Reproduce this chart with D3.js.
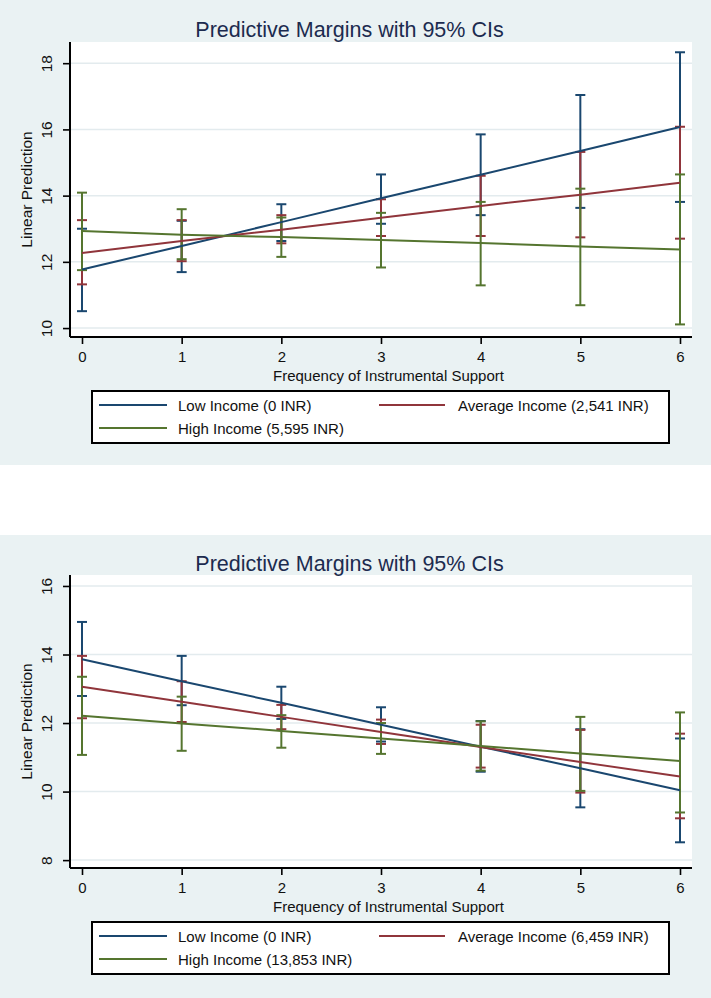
<!DOCTYPE html>
<html><head><meta charset="utf-8">
<script src="https://cdn.jsdelivr.net/npm/d3@7"></script>
<style>html,body{margin:0;padding:0;background:#fff;} svg{display:block;}</style>
</head><body>
<svg id="c" width="711" height="998"></svg>
<script>
// ---------- shared data ----------
const xValues = [0, 1, 2, 3, 4, 5, 6];
const xTickLabels = ["0", "1", "2", "3", "4", "5", "6"];
const chartTitle = "Predictive Margins with 95% CIs";
const xAxisTitle = "Frequency of Instrumental Support";
const yAxisTitle = "Linear Prediction";
const seriesColors = ["#1a476f", "#90353b", "#55752f"];

// ---------- top panel ----------
const topYTicks = [10, 12, 14, 16, 18];
const topLegend = ["Low Income (0 INR)", "Average Income (2,541 INR)", "High Income (5,595 INR)"];
const topLowMean  = [11.77, 12.48, 13.20, 13.92, 14.63, 15.35, 16.07];
const topLowLo    = [10.51, 11.69, 12.63, 13.15, 13.41, 13.63, 13.81];
const topLowHi    = [13.00, 13.24, 13.74, 14.64, 15.85, 17.04, 18.33];
const topAvgMean  = [12.27, 12.63, 12.97, 13.33, 13.69, 14.03, 14.39];
const topAvgLo    = [11.32, 12.02, 12.56, 12.78, 12.78, 12.74, 12.70];
const topAvgHi    = [13.26, 13.26, 13.41, 13.89, 14.60, 15.32, 16.08];
const topHighMean = [12.93, 12.82, 12.75, 12.66, 12.57, 12.46, 12.37];
const topHighLo   = [11.75, 12.08, 12.15, 11.83, 11.29, 10.69, 10.11];
const topHighHi   = [14.09, 13.59, 13.34, 13.48, 13.81, 14.21, 14.64];

// ---------- bottom panel ----------
const botYTicks = [8, 10, 12, 14, 16];
const botLegend = ["Low Income (0 INR)", "Average Income (6,459 INR)", "High Income (13,853 INR)"];
const botLowMean  = [13.86, 13.22, 12.59, 11.95, 11.31, 10.68, 10.04];
const botLowLo    = [12.79, 12.52, 12.12, 11.46, 10.58, 9.54, 8.52];
const botLowHi    = [14.95, 13.96, 13.06, 12.46, 12.06, 11.82, 11.55];
const botAvgMean  = [13.06, 12.62, 12.18, 11.74, 11.30, 10.86, 10.44];
const botAvgLo    = [12.14, 12.03, 11.82, 11.39, 10.70, 9.97, 9.22];
const botAvgHi    = [13.96, 13.22, 12.53, 12.10, 11.95, 11.80, 11.69];
const botHighMean = [12.21, 11.99, 11.77, 11.55, 11.33, 11.11, 10.89];
const botHighLo   = [11.07, 11.19, 11.28, 11.10, 10.61, 10.02, 9.39];
const botHighHi   = [13.35, 12.77, 12.23, 12.00, 12.05, 12.18, 12.31];

const svg = d3.select("#c");
const FONT = "'Liberation Sans', Arial, sans-serif";

function drawPanel(cfg) {
  const g = svg.append("g");
  // panel background
  g.append("rect").attr("x", 0).attr("y", cfg.panelTop).attr("width", 711).attr("height", cfg.panelH)
    .attr("fill", "#eaf2f3");
  const left = 70, right = 692;
  // plot region
  g.append("rect").attr("x", left).attr("y", cfg.plotTop).attr("width", right - left)
    .attr("height", cfg.axisY - cfg.plotTop).attr("fill", "#ffffff");

  const x = d3.scaleLinear().domain([0, 6]).range([82, 680]);
  const y = d3.scaleLinear().domain(cfg.yDomain).range([cfg.axisY, cfg.plotTop]);

  // gridlines
  g.append("g").selectAll("line").data(cfg.yTicks).join("line")
    .attr("x1", left).attr("x2", right)
    .attr("y1", d => y(d)).attr("y2", d => y(d))
    .attr("stroke", "#e3ebee").attr("stroke-width", 1.5);

  // title
  g.append("text").attr("x", 349.5).attr("y", cfg.titleY).attr("text-anchor", "middle")
    .attr("font-family", FONT).attr("font-size", 21.5).attr("fill", "#1c2b4f").text(chartTitle);

  // Y axis
  const yAxis = d3.axisLeft(y).tickValues(cfg.yTicks).tickSize(7).tickPadding(0).tickFormat(d3.format("d"));
  const ya = g.append("g").attr("transform", `translate(${left},0)`).call(yAxis);
  ya.select(".domain").attr("d", `M0,${cfg.plotTop}V${cfg.axisY}`).attr("stroke", "#000").attr("stroke-width", 2);
  ya.selectAll(".tick line").attr("stroke", "#000").attr("stroke-width", 1.6);
  ya.selectAll(".tick text")
    .attr("font-family", FONT).attr("font-size", 15.5).attr("fill", "#111")
    .attr("x", null).attr("dy", null)
    .attr("transform", "translate(-18,0) rotate(-90)")
    .attr("text-anchor", "middle").attr("y", 0);

  // X axis
  const xAxis = d3.axisBottom(x).tickValues(xValues).tickSize(7).tickPadding(0)
    .tickFormat((d, i) => xTickLabels[i]);
  const xa = g.append("g").attr("transform", `translate(0,${cfg.axisY})`).call(xAxis);
  xa.select(".domain").attr("d", `M${left},0H${right}`).attr("stroke", "#000").attr("stroke-width", 2);
  xa.selectAll(".tick line").attr("stroke", "#000").attr("stroke-width", 1.6);
  xa.selectAll(".tick text").attr("font-family", FONT).attr("font-size", 15).attr("fill", "#111")
    .attr("dy", null).attr("y", 25);

  // axis titles
  g.append("text").attr("x", 388.5).attr("y", cfg.axisY + 44).attr("text-anchor", "middle")
    .attr("font-family", FONT).attr("font-size", 15).attr("fill", "#111").text(xAxisTitle);
  g.append("text").attr("transform", `translate(32,${(cfg.plotTop + cfg.axisY) / 2}) rotate(-90)`)
    .attr("text-anchor", "middle").attr("font-family", FONT).attr("font-size", 15.5).attr("fill", "#111")
    .text(yAxisTitle);

  // CIs
  cfg.series.forEach((s, si) => {
    const cg = g.append("g");
    xValues.forEach((xv, i) => {
      const xp = x(xv);
      cg.append("line").attr("x1", xp).attr("x2", xp).attr("y1", y(s.lo[i])).attr("y2", y(s.hi[i]))
        .attr("stroke", seriesColors[si]).attr("stroke-width", 2);
      [s.lo[i], s.hi[i]].forEach(v => {
        cg.append("line").attr("x1", xp - 5).attr("x2", xp + 5).attr("y1", y(v)).attr("y2", y(v))
          .attr("stroke", seriesColors[si]).attr("stroke-width", 2);
      });
    });
  });
  // lines
  const line = d3.line().x((d, i) => x(xValues[i])).y(d => y(d));
  cfg.series.forEach((s, si) => {
    g.append("path").attr("d", line(s.mean)).attr("fill", "none")
      .attr("stroke", seriesColors[si]).attr("stroke-width", 2);
  });

  // legend
  const ly = cfg.axisY + 54;
  g.append("rect").attr("x", 92).attr("y", ly).attr("width", 577).attr("height", 52)
    .attr("fill", "#fff").attr("stroke", "#000").attr("stroke-width", 2);
  const pos = [[99, 167, 178, ly + 14], [379, 445, 458, ly + 14], [99, 167, 178, ly + 37]];
  cfg.legend.forEach((lab, i) => {
    const p = pos[i];
    g.append("line").attr("x1", p[0]).attr("x2", p[1]).attr("y1", p[3]).attr("y2", p[3])
      .attr("stroke", seriesColors[i]).attr("stroke-width", 2);
    g.append("text").attr("x", p[2]).attr("y", p[3] + 5.5).attr("font-family", FONT)
      .attr("font-size", 15).attr("fill", "#111").text(lab);
  });
}

drawPanel({
  panelTop: 0, panelH: 465, titleY: 37, plotTop: 42, axisY: 337,
  yDomain: [9.73, 18.64], yTicks: topYTicks, legend: topLegend,
  series: [
    {mean: topLowMean, lo: topLowLo, hi: topLowHi},
    {mean: topAvgMean, lo: topAvgLo, hi: topAvgHi},
    {mean: topHighMean, lo: topHighLo, hi: topHighHi}
  ]
});
drawPanel({
  panelTop: 535, panelH: 463, titleY: 571, plotTop: 575, axisY: 868,
  yDomain: [7.77, 16.32], yTicks: botYTicks, legend: botLegend,
  series: [
    {mean: botLowMean, lo: botLowLo, hi: botLowHi},
    {mean: botAvgMean, lo: botAvgLo, hi: botAvgHi},
    {mean: botHighMean, lo: botHighLo, hi: botHighHi}
  ]
});
</script>
</body></html>
